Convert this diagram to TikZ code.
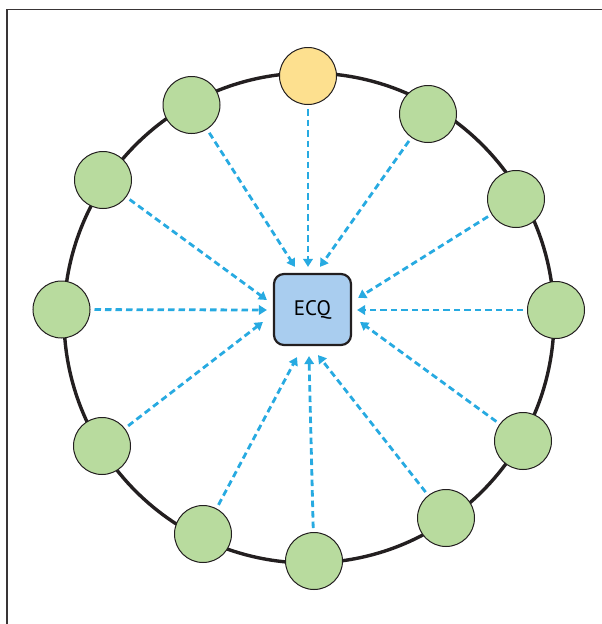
\documentclass[tikz,border=0pt]{standalone}
\usepackage{fontspec}
\newfontfamily\ecqfont{PT Sans}
\usetikzlibrary{calc,arrows.meta,positioning}
\definecolor{ink}{HTML}{231F20}
\definecolor{leaf}{HTML}{B8DB9E}
\definecolor{sun}{HTML}{FDE08F}
\definecolor{sky}{HTML}{A9CDEF}
\definecolor{flowblue}{HTML}{27AAE1}

\begin{document}
\begin{tikzpicture}[x=1pt,y=-1pt,
    peer/.style={circle,draw=ink,line width=1pt,fill=leaf,minimum size=57pt,inner sep=0pt},
    ecqbox/.style={draw=ink,line width=2.2pt,fill=sky,rounded corners=10pt,
      minimum width=77pt,minimum height=71pt,font=\ecqfont\fontsize{21}{25}\selectfont},
    flow/.style={draw=flowblue,line width=2.8pt,dash pattern=on 6.5pt off 4pt,
      shorten <=4pt,-{Triangle[length=8pt,width=9.5pt]}}]
        \useasboundingbox (0,0) rectangle (602,624);
        \draw[ink!90,line width=1.8pt] (7,624) -- (7,9.5) -- (602,9.5);
        \draw[ink,line width=3.4pt] (309,318) circle (245);
        % clients round the ring
        \node[peer,fill=sun] (n1) at (308,76) {};
        \node[peer] (n2) at (428,114) {};
        \node[peer] (n3) at (516,199) {};
        \node[peer] (n4) at (556,310) {};
        \node[peer] (n5) at (523,441) {};
        \node[peer] (n6) at (446,518) {};
        \node[peer] (n7) at (314,561) {};
        \node[peer] (n8) at (203,534) {};
        \node[peer] (n9) at (102,446) {};
        \node[peer] (n10) at (61.5,309.5) {};
        \node[peer] (n11) at (103,180) {};
        \node[peer] (n12) at (191.5,105) {};
        \node[ecqbox] (ecq) at (312.5,309.5) {ECQ};
        % everyone reports to the ECQ
        \draw[flow] (n12) -- ($(ecq.north)+(-17.5,-6)$);
        \draw[flow] (n1) -- ($(ecq.north)+(-4.5,-6)$);
        \draw[flow] (n2) -- ($(ecq.north)+(7.5,-6)$);
        \draw[flow] (n3) -- ($(ecq.east)+(6,-11.5)$);
        \draw[flow] (n4) -- ($(ecq.east)+(5,0.5)$);
        \draw[flow] (n5) -- ($(ecq.east)+(8,12.5)$);
        \draw[flow] (n6) -- ($(ecq.south)+(5.5,9)$);
        \draw[flow] (n7) -- ($(ecq.south)+(-3.5,10)$);
        \draw[flow] (n8) -- ($(ecq.south)+(-15.5,11)$);
        \draw[flow] (n9) -- ($(ecq.west)+(-10,12.5)$);
        \draw[flow] (n10) -- ($(ecq.west)+(-6,0.5)$);
        \draw[flow] (n11) -- ($(ecq.west)+(-6,-9.5)$);
\end{tikzpicture}
\end{document}
